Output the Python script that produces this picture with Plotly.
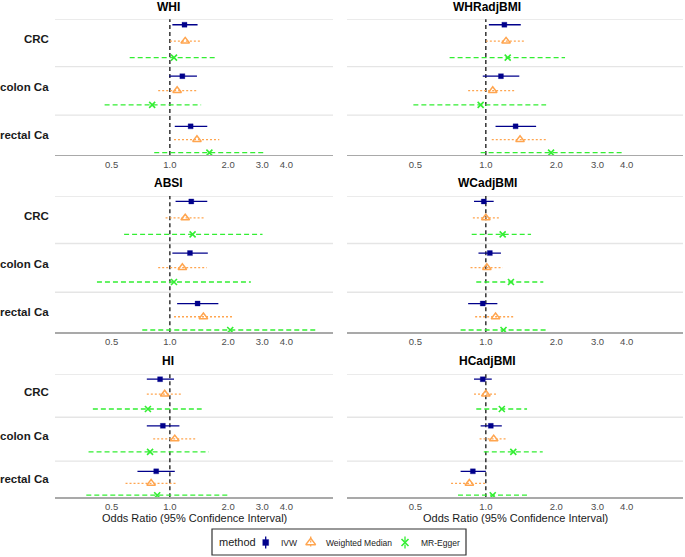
import math
import plotly.graph_objects as go

W, H = 685, 557

outcomes = ["CRC", "colon Ca", "rectal Ca"]
methods = ["IVW", "Weighted Median", "MR-Egger"]
exposures = ["WHI", "WHRadjBMI", "ABSI", "WCadjBMI", "HI", "HCadjBMI"]
tick_vals = [0.5, 1.0, 2.0, 3.0, 4.0]
tick_text = ["0.5", "1.0", "2.0", "3.0", "4.0"]
x_title = "Odds Ratio (95% Confidence Interval)"

# value order in each list: CRC (IVW, WM, Egger), colon Ca (IVW, WM, Egger), rectal Ca (IVW, WM, Egger)
whi_or = [1.19, 1.20, 1.05, 1.16, 1.09, 0.81, 1.28, 1.38, 1.60]
whi_lo = [1.03, 1.00, 0.62, 0.99, 0.87, 0.46, 1.06, 1.05, 0.83]
whi_hi = [1.39, 1.45, 1.76, 1.38, 1.37, 1.45, 1.56, 1.80, 3.07]

whradj_or = [1.20, 1.22, 1.24, 1.16, 1.07, 0.95, 1.34, 1.40, 1.90]
whradj_lo = [1.03, 1.00, 0.70, 0.97, 0.84, 0.49, 1.10, 1.06, 0.95]
whradj_hi = [1.41, 1.46, 2.18, 1.39, 1.33, 1.81, 1.64, 1.81, 3.84]

absi_or = [1.29, 1.20, 1.31, 1.27, 1.16, 1.05, 1.39, 1.49, 2.05]
absi_lo = [1.07, 0.95, 0.58, 1.03, 0.87, 0.42, 1.09, 1.05, 0.72]
absi_hi = [1.56, 1.50, 3.01, 1.57, 1.55, 2.62, 1.78, 2.11, 5.81]

wcadj_or = [0.98, 1.00, 1.18, 1.04, 1.01, 1.28, 0.97, 1.10, 1.19]
wcadj_lo = [0.89, 0.88, 0.87, 0.93, 0.86, 0.91, 0.84, 0.90, 0.78]
wcadj_hi = [1.08, 1.15, 1.56, 1.16, 1.18, 1.76, 1.12, 1.32, 1.83]

hi_or = [0.89, 0.94, 0.77, 0.92, 1.06, 0.79, 0.85, 0.80, 0.86]
hi_lo = [0.76, 0.76, 0.40, 0.76, 0.82, 0.38, 0.68, 0.59, 0.37]
hi_hi = [1.05, 1.14, 1.46, 1.12, 1.37, 1.59, 1.06, 1.08, 2.00]

hcadj_or = [0.97, 1.00, 1.17, 1.05, 1.08, 1.31, 0.88, 0.85, 1.07]
hcadj_lo = [0.89, 0.89, 0.91, 0.95, 0.94, 0.98, 0.78, 0.71, 0.76]
hcadj_hi = [1.06, 1.12, 1.50, 1.17, 1.23, 1.75, 1.00, 1.00, 1.51]

panel_data = [
    (whi_or, whi_lo, whi_hi),
    (whradj_or, whradj_lo, whradj_hi),
    (absi_or, absi_lo, absi_hi),
    (wcadj_or, wcadj_lo, wcadj_hi),
    (hi_or, hi_lo, hi_hi),
    (hcadj_or, hcadj_lo, hcadj_hi),
]

# ---------- styling / layout constants ----------
FONT = "Liberation Sans, Arial, sans-serif"
COLORS = {"IVW": "#00008B", "Weighted Median": "#FFA54F", "MR-Egger": "#33EE33"}
DASH = {"IVW": "solid", "Weighted Median": "2px,2px", "MR-Egger": "5px,3px"}
SYMBOL = {"IVW": "square", "Weighted Median": "triangle-up-open", "MR-Egger": "x-thin-open"}
MSIZE = {"IVW": 5, "Weighted Median": 7.5, "MR-Egger": 6}
MLW = {"IVW": 0.3, "Weighted Median": 1.5, "MR-Egger": 1.6}

GROUP_Y = [0.161, 0.525, 0.886]      # fraction from panel top
DODGE = [0.121, 0.106, 0.097]
METHOD_OFF = [-1, 0, 1]
LABEL_Y = [0.147, 0.500, 0.853]
SEP_Y = [0.0, 0.349, 0.706]

col_px = [(55, 333), (347, 683)]
row_px = [(19.3, 155.0), (196.0, 332.3), (374.3, 497.3)]
title_x_px = [168, 487]
title_y_px = [7, 183, 361]

xr = [math.log10(0.255), math.log10(6.96)]


def px_x(p):
    return p / W


def px_y(p):
    return 1 - p / H


fig = go.Figure()
layout = dict(
    width=W, height=H, margin=dict(l=0, r=0, t=0, b=0),
    paper_bgcolor="white", plot_bgcolor="white", showlegend=False,
    font=dict(family=FONT, color="#1a1a1a"),
)
shapes = []
annotations = []

for i, (ors, los, his) in enumerate(panel_data):
    r, c = divmod(i, 2)
    n = "" if i == 0 else str(i + 1)
    xa, ya = "x" + n, "y" + n
    layout["xaxis" + n] = dict(
        domain=[px_x(col_px[c][0]), px_x(col_px[c][1])],
        anchor=ya, type="log", range=xr,
        tickvals=tick_vals, ticktext=tick_text,
        tickfont=dict(size=9.5, color="#4d4d4d", family=FONT),
        showgrid=False, zeroline=False, showline=True,
        linecolor="#a9a9a9", linewidth=1.4, ticks="", fixedrange=True,
    )
    layout["yaxis" + n] = dict(
        domain=[px_y(row_px[r][1]), px_y(row_px[r][0])],
        anchor=xa, range=[1.0, 0.0], showgrid=False, zeroline=False,
        showline=False, showticklabels=False, ticks="", fixedrange=True,
    )
    for s in SEP_Y:
        shapes.append(dict(type="line", xref=xa + " domain", yref=ya,
                           x0=0, x1=1, y0=s, y1=s,
                           line=dict(color="#e5e5e5", width=1.4), layer="below"))
    shapes.append(dict(type="line", xref=xa, yref=ya + " domain",
                       x0=1, x1=1, y0=0, y1=1,
                       line=dict(color="black", width=1.2, dash="4px,3px"), layer="below"))
    for m, meth in enumerate(methods):
        xs, ys = [], []
        px_, py_ = [], []
        for g in range(3):
            k = g * 3 + m
            yy = GROUP_Y[g] + METHOD_OFF[m] * DODGE[g]
            xs += [los[k], his[k], None]
            ys += [yy, yy, None]
            px_.append(ors[k])
            py_.append(yy)
        fig.add_trace(go.Scatter(x=xs, y=ys, mode="lines", xaxis=xa, yaxis=ya,
                                 line=dict(color=COLORS[meth], width=1.3, dash=DASH[meth]),
                                 hoverinfo="skip", showlegend=False))
        fig.add_trace(go.Scatter(x=px_, y=py_, mode="markers", xaxis=xa, yaxis=ya,
                                 name=meth,
                                 marker=dict(symbol=SYMBOL[meth], size=MSIZE[meth],
                                             color=COLORS[meth],
                                             line=dict(color=COLORS[meth], width=MLW[meth])),
                                 showlegend=False))
    annotations.append(dict(text="<b>%s</b>" % exposures[i], xref="paper", yref="paper",
                            x=px_x(title_x_px[c]), y=px_y(title_y_px[r]),
                            xanchor="center", yanchor="middle", showarrow=False,
                            font=dict(size=12, color="black", family=FONT)))
    if c == 0:
        top, bot = row_px[r]
        for g, lab in enumerate(outcomes):
            ypx = top + LABEL_Y[g] * (bot - top)
            annotations.append(dict(text="<b>%s</b>" % lab, xref="paper", yref="paper",
                                    x=px_x(51), y=px_y(ypx), xanchor="right", yanchor="middle",
                                    showarrow=False,
                                    font=dict(size=11.5, color="#1a1a1a", family=FONT)))

for c in range(2):
    annotations.append(dict(text=x_title, xref="paper", yref="paper",
                            x=px_x((col_px[c][0] + col_px[c][1]) / 2), y=px_y(518),
                            xanchor="center", yanchor="middle", showarrow=False,
                            font=dict(size=11, color="#1a1a1a", family=FONT)))

# ---------- custom legend ----------
lx0, lx1, ly0, ly1 = 212, 466, 529, 555
layout["xaxis7"] = dict(domain=[px_x(lx0), px_x(lx1)], range=[lx0, lx1], anchor="y7",
                        visible=False, fixedrange=True)
layout["yaxis7"] = dict(domain=[px_y(ly1), px_y(ly0)], range=[ly1, ly0], anchor="x7",
                        visible=False, fixedrange=True)
shapes.append(dict(type="rect", xref="paper", yref="paper",
                   x0=px_x(lx0), x1=px_x(lx1), y0=px_y(ly1), y1=px_y(ly0),
                   line=dict(color="#333333", width=1.2), fillcolor="rgba(0,0,0,0)"))
annotations.append(dict(text="method", xref="x7", yref="y7", x=217, y=542,
                        xanchor="left", yanchor="middle", showarrow=False,
                        font=dict(size=11, color="#1a1a1a", family=FONT)))
key_x = [265.7, 310.7, 405.0]
lab_x = [279, 324, 419]
for m, meth in enumerate(methods):
    fig.add_trace(go.Scatter(x=[key_x[m], key_x[m]], y=[536.5, 548.5], mode="lines",
                             xaxis="x7", yaxis="y7",
                             line=dict(color=COLORS[meth], width=1.3, dash=DASH[meth]),
                             hoverinfo="skip", showlegend=False))
    fig.add_trace(go.Scatter(x=[key_x[m]], y=[542.5], mode="markers", xaxis="x7", yaxis="y7",
                             marker=dict(symbol=SYMBOL[meth], size=MSIZE[meth] + 1,
                                         color=COLORS[meth],
                                         line=dict(color=COLORS[meth], width=MLW[meth])),
                             hoverinfo="skip", showlegend=False))
    annotations.append(dict(text=meth, xref="x7", yref="y7", x=lab_x[m], y=542.5,
                            xanchor="left", yanchor="middle", showarrow=False,
                            font=dict(size=8.5, color="#1a1a1a", family=FONT)))

layout["shapes"] = shapes
layout["annotations"] = annotations
fig.update_layout(**layout)
fig.write_html(
    "out.html",
    config={"displayModeBar": False, "staticPlot": True},
    post_script="document.body.style.margin='0';document.body.style.padding='0';"
                "document.documentElement.style.overflow='hidden';",
)
